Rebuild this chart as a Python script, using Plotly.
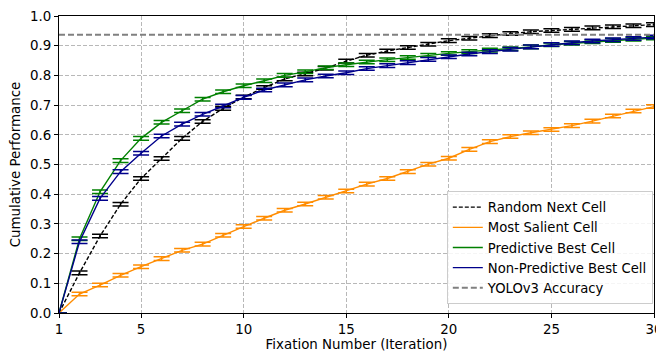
import plotly.graph_objects as go

fixation = list(range(1, 31))

random_next = [0.0, 0.135, 0.259, 0.366, 0.453, 0.520, 0.588, 0.645, 0.689, 0.727,
               0.759, 0.788, 0.805, 0.824, 0.848, 0.868, 0.882, 0.894, 0.905, 0.917,
               0.925, 0.934, 0.941, 0.947, 0.951, 0.955, 0.960, 0.964, 0.967, 0.971]
most_salient = [0.0, 0.064, 0.094, 0.127, 0.156, 0.183, 0.211, 0.232, 0.262, 0.291,
                0.319, 0.346, 0.367, 0.390, 0.411, 0.434, 0.453, 0.476, 0.501, 0.521,
                0.551, 0.577, 0.594, 0.607, 0.618, 0.631, 0.646, 0.663, 0.680, 0.695]
predictive = [0.0, 0.250, 0.408, 0.513, 0.588, 0.642, 0.681, 0.720, 0.745, 0.765,
              0.782, 0.800, 0.812, 0.826, 0.836, 0.845, 0.853, 0.860, 0.868, 0.874,
              0.880, 0.885, 0.890, 0.896, 0.903, 0.908, 0.913, 0.918, 0.922, 0.926]
non_predictive = [0.0, 0.240, 0.386, 0.476, 0.538, 0.596, 0.636, 0.669, 0.697, 0.726,
                  0.751, 0.768, 0.785, 0.798, 0.809, 0.823, 0.833, 0.843, 0.854, 0.863,
                  0.872, 0.880, 0.888, 0.896, 0.904, 0.910, 0.916, 0.920, 0.924, 0.929]
err_band = [0.0] + [0.006] * 29
yolo_acc = 0.937

series = [
    ("Random Next Cell", random_next, "black", "dash"),
    ("Most Salient Cell", most_salient, "#ff8c00", "solid"),
    ("Predictive Best Cell", predictive, "green", "solid"),
    ("Non-Predictive Best Cell", non_predictive, "#00008b", "solid"),
]

fig = go.Figure()
for name, vals, color, dash in series:
    fig.add_trace(go.Scatter(
        x=fixation, y=vals, name=name, mode="lines",
        line=dict(color=color, width=1.4, dash=dash if dash == "solid" else "4px,2px"),
        error_y=dict(type="data", array=err_band, visible=True, color=color,
                     thickness=1.5, width=8),
    ))
fig.add_trace(go.Scatter(
    x=[fixation[0], fixation[-1]], y=[yolo_acc, yolo_acc], name="YOLOv3 Accuracy",
    mode="lines", line=dict(color="gray", width=2, dash="6px,3px"),
))

font = "DejaVu Sans, sans-serif"
fs = 13.4
grid = dict(showgrid=True, gridcolor="#b8b8b8", griddash="4px,2px", gridwidth=1)
# page body has an 8px margin, so the figure is sized/offset to compensate
fig.update_layout(
    width=656, height=344,
    margin=dict(l=51, r=10, t=8, b=39),
    paper_bgcolor="white", plot_bgcolor="white",
    font=dict(family=font, size=fs, color="black"),
    showlegend=True,
    legend=dict(x=0.998, y=0.03, xanchor="right", yanchor="bottom",
                bgcolor="rgba(255,255,255,0.85)", bordercolor="#cccccc", borderwidth=1,
                font=dict(size=13.2), tracegroupgap=0, itemwidth=30),
    xaxis=dict(range=[1, 30], tickvals=[1, 5, 10, 15, 20, 25, 30], automargin=False,
               ticklabeloverflow="allow",
               title=dict(text="Fixation Number (Iteration)", standoff=4, font=dict(size=fs)),
               showline=True, linecolor="black", linewidth=1, mirror=True,
               ticks="outside", ticklen=4, tickcolor="black", zeroline=False, **grid),
    yaxis=dict(range=[0, 1.0], tickvals=[i / 10 for i in range(11)], tickformat=".1f",
               automargin=False, ticklabeloverflow="allow",
               title=dict(text="Cumulative Performance", standoff=7, font=dict(size=fs)),
               showline=True, linecolor="black", linewidth=1, mirror=True,
               ticks="outside", ticklen=4, tickcolor="black", zeroline=False, **grid),
)

fig.write_html("out.html")
